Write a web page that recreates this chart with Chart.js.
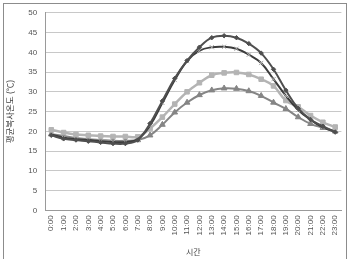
<!DOCTYPE html>
<html>
<head>
<meta charset="utf-8">
<script src="https://cdn.jsdelivr.net/npm/chart.js@4/dist/chart.umd.min.js"></script>
<style>
  html, body { margin: 0; padding: 0; background: #fff; }
  #wrap { position: relative; width: 350px; height: 259px; }
  #frame { position: absolute; left: 3px; top: 3px; width: 344px; height: 262px; border: 1px solid #8c8c8c; box-sizing: border-box; }
  canvas { position: absolute; left: 0; top: 0; }
</style>
</head>
<body>
<div id="wrap">
  <div id="frame"></div>
  <canvas id="chart" width="350" height="259"></canvas>
</div>
<script>
const hours = ['0:00','1:00','2:00','3:00','4:00','5:00','6:00','7:00','8:00','9:00','10:00','11:00',
  '12:00','13:00','14:00','15:00','16:00','17:00','18:00','19:00','20:00','21:00','22:00','23:00'];

const seriesDiamond = [19.0, 18.1, 17.8, 17.5, 17.2, 16.9, 16.9, 17.8, 22.0, 27.7, 33.4, 37.9,
  41.3, 43.7, 44.2, 43.7, 42.2, 39.8, 35.7, 30.4, 25.8, 23.0, 21.3, 19.8];
const seriesCross = [19.2, 18.4, 18.0, 17.8, 17.5, 17.3, 17.3, 18.0, 21.5, 27.2, 33.0, 37.8,
  40.4, 41.3, 41.4, 40.9, 39.4, 37.3, 33.2, 29.0, 25.4, 22.9, 21.0, 19.9];
const seriesSquare = [20.4, 19.7, 19.2, 19.0, 18.8, 18.7, 18.7, 18.6, 20.7, 23.6, 26.9, 30.0,
  32.3, 34.2, 34.8, 34.9, 34.4, 33.2, 31.5, 27.8, 26.2, 24.0, 22.3, 21.1];
const seriesTriangle = [19.3, 18.8, 18.3, 18.0, 17.8, 17.6, 17.6, 17.8, 19.0, 21.7, 24.8, 27.3,
  29.2, 30.4, 30.9, 30.8, 30.2, 29.0, 27.3, 25.7, 23.6, 21.9, 20.9, 20.0];
const yTicks = [0, 5, 10, 15, 20, 25, 30, 35, 40, 45, 50];

const FONT = "'Liberation Sans', 'Noto Sans CJK KR', sans-serif";

function line(data, color, style, radius, ptBorder, ptBg, width) {
  return {
    data,
    borderColor: color,
    borderWidth: width,
    pointStyle: style,
    pointRadius: radius,
    pointBorderColor: ptBorder,
    pointBackgroundColor: ptBg,
    pointBorderWidth: 1,
    tension: 0.4,
    fill: false
  };
}

new Chart(document.getElementById('chart'), {
  type: 'line',
  data: {
    labels: hours,
    datasets: [
      line(seriesDiamond, '#4f4f4f', 'rectRot', 2.2, '#4f4f4f', '#4f4f4f', 2),
      line(seriesCross, '#3c3c3c', 'crossRot', 3, '#a8a8a8', '#a8a8a8', 2),
      line(seriesSquare, '#b4b4b4', 'rect', 3.2, '#b4b4b4', '#b4b4b4', 2.5),
      line(seriesTriangle, '#858585', 'triangle', 3.3, '#858585', '#858585', 2)
    ]
  },
  options: {
    responsive: false,
    animation: false,
    layout: { padding: { left: 6, right: 8, top: 4, bottom: 1 } },
    plugins: { legend: { display: false }, tooltip: { enabled: false } },
    scales: {
      x: {
        offset: true,
        grid: { display: false, drawTicks: false },
        border: { color: '#9a9a9a' },
        ticks: {
          color: '#555', font: { family: FONT, size: 8 },
          maxRotation: 90, minRotation: 90, autoSkip: false, padding: 5
        },
        title: { display: true, text: '시간', color: '#444', font: { family: FONT, size: 8 }, padding: { top: 8, bottom: 0 } }
      },
      y: {
        min: 0, max: 50,
        afterBuildTicks: axis => { axis.ticks = yTicks.map(v => ({ value: v })); },
        grid: { color: '#c8c8c8', drawTicks: false },
        border: { color: '#9a9a9a' },
        ticks: { color: '#555', font: { family: FONT, size: 8 }, padding: 8 },
        title: { display: true, text: '평균복사온도 (℃)', color: '#444', font: { family: FONT, size: 8.5 }, padding: { top: 0, bottom: 4 } }
      }
    }
  }
});
</script>
</body>
</html>
